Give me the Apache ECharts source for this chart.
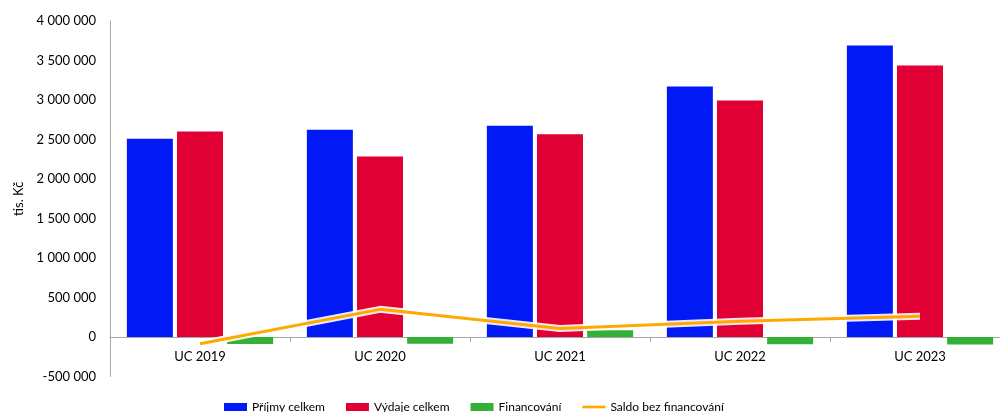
<!DOCTYPE html>
<html>
<head>
<meta charset="utf-8">
<script src="https://cdn.jsdelivr.net/npm/echarts@6/dist/echarts.min.js"></script>
<style>html,body{margin:0;padding:0;background:#fff;overflow:hidden}#c{width:1010px;height:412px}</style>
</head>
<body>
<div id="c"></div>
<script>
var categories = ['UC 2019', 'UC 2020', 'UC 2021', 'UC 2022', 'UC 2023'];
var prijmy = [2509000, 2623000, 2673000, 3171000, 3690000];
var vydaje = [2601000, 2285000, 2567000, 2994000, 3437000];
var financovani = [-90000, -85000, 85000, -92000, -95000];
var saldo = [-86000, 350000, 108000, 200000, 264000];
var seriesNames = ['Příjmy celkem', 'Výdaje celkem', 'Financování', 'Saldo bez financování'];

var font = 'Lato, "Open Sans", sans-serif';
var chart = echarts.init(document.getElementById('c'), null, {renderer: 'canvas'});
chart.setOption({
  animation: false,
  textStyle: {fontFamily: font},
  grid: {left: 110, right: 0, top: 21, bottom: 35.5},
  legend: {
    bottom: -6, left: 219,
    itemWidth: 23, itemHeight: 8, itemGap: 21,
    textStyle: {fontFamily: font, fontSize: 12, color: '#000'},
    data: [
      {name: seriesNames[0], icon: 'rect'},
      {name: seriesNames[1], icon: 'rect'},
      {name: seriesNames[2], icon: 'rect'},
      {name: seriesNames[3], icon: 'path://M0,0 L26,0 L26,3 L0,3 Z'}
    ]
  },
  xAxis: {
    type: 'category', data: categories,
    axisLine: {onZero: true, lineStyle: {color: '#A6A6A6', width: 1}},
    axisTick: {show: true, length: 5, lineStyle: {color: '#A6A6A6'}},
    axisLabel: {color: '#000', fontSize: 13, fontFamily: font, margin: -26}
  },
  yAxis: {
    type: 'value', min: -500000, max: 4000000, interval: 500000,
    name: 'tis. Kč', nameLocation: 'middle', nameGap: 84, nameRotate: 90,
    nameTextStyle: {color: '#000', fontSize: 13, fontFamily: font},
    axisLine: {show: true, lineStyle: {color: '#A6A6A6'}},
    axisTick: {show: false},
    splitLine: {show: false},
    axisLabel: {
      color: '#000', fontSize: 13, fontFamily: font, margin: 14,
      formatter: function (v) { return String(v).replace(/\B(?=(\d{3})+(?!\d))/g, ' '); }
    }
  },
  series: [
    {name: seriesNames[0], type: 'bar', data: prijmy, barWidth: 46, barGap: '9%', itemStyle: {color: '#0019F5'}},
    {name: seriesNames[1], type: 'bar', data: vydaje, barWidth: 46, barGap: '9%', itemStyle: {color: '#E00034'}},
    {name: seriesNames[2], type: 'bar', data: financovani, barWidth: 46, barGap: '9%', itemStyle: {color: '#33B035'}},
    {name: 'white-under', type: 'line', data: saldo, symbol: 'none', silent: true, z: 3,
     lineStyle: {color: '#FFFFFF', width: 7, opacity: 0.9}},
    {name: seriesNames[3], type: 'line', data: saldo, symbol: 'none', z: 4,
     lineStyle: {color: '#FFA800', width: 3}, itemStyle: {color: '#FFA800'}}
  ]
});
</script>
</body>
</html>
